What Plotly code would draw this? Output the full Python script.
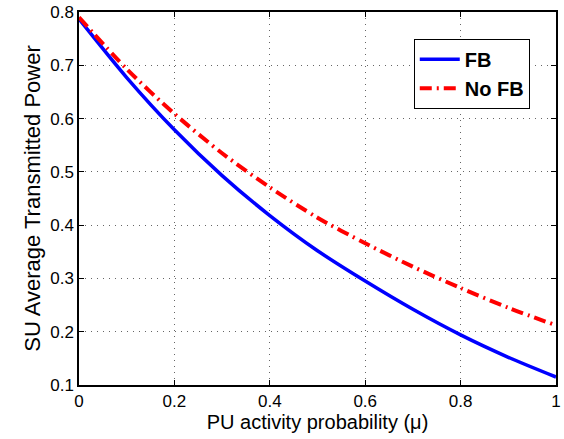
import plotly.graph_objects as go

mu = [0.0, 0.1, 0.2, 0.3, 0.4, 0.5, 0.6, 0.7, 0.8, 0.9, 1.0]
fb = [0.787, 0.677, 0.579, 0.493, 0.418, 0.352, 0.295, 0.242, 0.194, 0.152, 0.115]
no_fb = [0.790, 0.693, 0.609, 0.535, 0.471, 0.414, 0.366, 0.322, 0.282, 0.245, 0.212]

x_ticks = [0, 0.2, 0.4, 0.6, 0.8, 1]
x_tick_labels = ["0", "0.2", "0.4", "0.6", "0.8", "1"]
y_ticks = [0.1, 0.2, 0.3, 0.4, 0.5, 0.6, 0.7, 0.8]
y_tick_labels = ["0.1", "0.2", "0.3", "0.4", "0.5", "0.6", "0.7", "0.8"]

fig = go.Figure()
fig.add_trace(go.Scatter(x=mu, y=fb, mode="lines", name="<b>FB</b>",
                         line=dict(color="#0000ff", width=3.5, shape="spline", smoothing=0.8)))
fig.add_trace(go.Scatter(x=mu, y=no_fb, mode="lines", name="<b>No FB</b>",
                         line=dict(color="#ff0000", width=4, shape="spline", smoothing=0.8,
                                   dash="12px,5px,2px,5px")))

axis_common = dict(
    showline=True, linecolor="black", linewidth=1.5, mirror="ticks",
    ticks="inside", ticklen=5, tickcolor="black",
    showgrid=True, gridcolor="#666666", griddash="1px,5px", gridwidth=1,
    zeroline=False, ticklabeloverflow="allow",
    tickfont=dict(family="Liberation Sans, Arial", size=17, color="black"),
)

fig.update_layout(
    width=564, height=439,
    margin=dict(l=79, r=3, t=12, b=54),
    plot_bgcolor="white", paper_bgcolor="white",
    font=dict(family="Liberation Sans, Arial", size=18, color="black"),
    xaxis=dict(range=[0, 1], tickvals=x_ticks, ticktext=x_tick_labels,
               title=dict(text="PU activity probability (μ)", standoff=4,
                          font=dict(size=20)), **axis_common),
    yaxis=dict(range=[0.1, 0.8], tickvals=y_ticks, ticktext=y_tick_labels,
               title=dict(text="SU Average Transmitted Power", standoff=4,
                          font=dict(size=22)), **axis_common),
    legend=dict(x=0.945, y=0.928, xanchor="right", yanchor="top",
                bordercolor="black", borderwidth=1, bgcolor="white",
                font=dict(size=20, color="black"), tracegroupgap=0,
                itemwidth=40),
    showlegend=True,
)

fig.write_html("out.html")
